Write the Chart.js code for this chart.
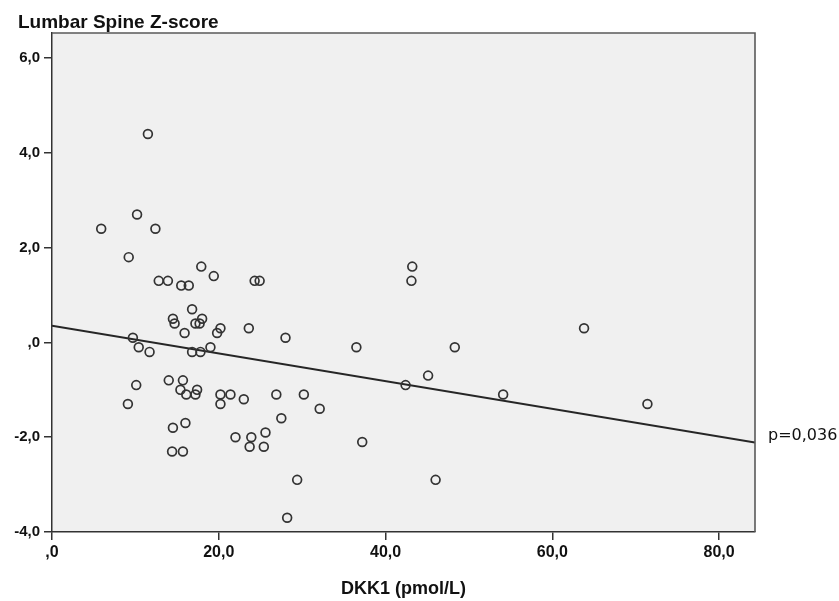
<!DOCTYPE html>
<html>
<head>
<meta charset="utf-8">
<script src="https://cdn.jsdelivr.net/npm/chart.js@4.4.0/dist/chart.umd.min.js"></script>
<style>
  html, body { margin: 0; padding: 0; background: #ffffff; }
  #wrap { width: 839px; height: 601px; }
</style>
</head>
<body>
<div id="wrap"><canvas id="c" width="839" height="601"></canvas></div>
<script>
// ---- Data ----
const dkk1 = [
  11.5, 10.2, 5.9, 12.4, 9.2, 12.8, 13.9, 15.5, 16.4, 17.9,
  19.4, 24.3, 24.9, 16.8, 14.5, 18.0, 14.7, 17.2, 17.7, 15.9,
  19.8, 20.2, 23.6, 28.0, 9.7, 10.4, 11.7, 16.8, 17.8, 19.0,
  14.0, 15.7, 10.1, 15.4, 16.1, 17.4, 17.2, 20.2, 21.4, 20.2,
  9.1, 23.0, 26.9, 30.2, 32.1, 27.5, 16.0, 14.5, 25.6, 22.0,
  23.9, 23.7, 25.4, 14.4, 15.7, 29.4, 28.2, 43.2, 43.1, 63.8,
  36.5, 48.3, 45.1, 42.4, 54.1, 71.4, 37.2, 46.0
];
const zScore = [
  4.4, 2.7, 2.4, 2.4, 1.8, 1.3, 1.3, 1.2, 1.2, 1.6,
  1.4, 1.3, 1.3, 0.7, 0.5, 0.5, 0.4, 0.4, 0.4, 0.2,
  0.2, 0.3, 0.3, 0.1, 0.1, -0.1, -0.2, -0.2, -0.2, -0.1,
  -0.8, -0.8, -0.9, -1.0, -1.1, -1.0, -1.1, -1.1, -1.1, -1.3,
  -1.3, -1.2, -1.1, -1.1, -1.4, -1.6, -1.7, -1.8, -1.9, -2.0,
  -2.0, -2.2, -2.2, -2.3, -2.3, -2.9, -3.7, 1.6, 1.3, 0.3,
  -0.1, -0.1, -0.7, -0.9, -1.1, -1.3, -2.1, -2.9
];
const fitX = [0, 84.3];
const fitY = [0.35, -2.11];
const xTicks = [0, 20, 40, 60, 80];
const yTicks = [-4, -2, 0, 2, 4, 6];
const xRange = [0, 84.3];
const yRange = [-4, 6.53];
const yTitle = 'Lumbar Spine Z-score';
const xTitle = 'DKK1 (pmol/L)';
const pLabel = 'p=0,036';

// ---- Chart ----
const fmt = v => (v === 0 ? ',0' : v.toFixed(1).replace('.', ','));
const FONT = '"Liberation Sans", Arial, sans-serif';

const decor = {
  id: 'decor',
  beforeDraw(chart) {
    const { ctx, chartArea: a } = chart;
    ctx.save();
    ctx.fillStyle = '#f0f0f0';
    ctx.fillRect(a.left, a.top, a.right - a.left, a.bottom - a.top);
    ctx.restore();
  },
  afterDraw(chart) {
    const { ctx, chartArea: a, scales } = chart;
    ctx.save();
    ctx.strokeStyle = '#5a5a5a';
    ctx.lineWidth = 1.6;
    ctx.beginPath();
    ctx.moveTo(a.left, a.top);
    ctx.lineTo(a.right, a.top);
    ctx.lineTo(a.right, a.bottom);
    ctx.stroke();
    // y-axis title
    ctx.fillStyle = '#111';
    ctx.font = 'bold 19px ' + FONT;
    ctx.textAlign = 'left';
    ctx.textBaseline = 'alphabetic';
    ctx.fillText(yTitle, 18, 28);
    // p-value annotation at the end of the fit line
    const px = scales.x.getPixelForValue(fitX[1]);
    const py = scales.y.getPixelForValue(fitY[1]);
    ctx.font = '16px "DejaVu Sans", Verdana, sans-serif';
    ctx.fillStyle = '#111';
    ctx.textBaseline = 'middle';
    ctx.fillText(pLabel, px + 13, py - 7);
    ctx.restore();
  }
};

new Chart(document.getElementById('c'), {
  type: 'scatter',
  data: {
    datasets: [
      {
        label: 'data',
        data: dkk1.map((x, i) => ({ x, y: zScore[i] })),
        pointStyle: 'circle',
        pointRadius: 4.4,
        pointBorderWidth: 1.7,
        pointBorderColor: '#333333',
        pointBackgroundColor: 'rgba(0,0,0,0)',
        showLine: false
      },
      {
        label: 'fit',
        data: fitX.map((x, i) => ({ x, y: fitY[i] })),
        showLine: true,
        borderColor: '#262626',
        borderWidth: 2,
        pointRadius: 0,
        fill: false
      }
    ]
  },
  options: {
    responsive: false,
    animation: false,
    layout: { padding: { top: 33, right: 84, left: 0, bottom: 0 } },
    plugins: {
      legend: { display: false },
      tooltip: { enabled: false },
      title: { display: false }
    },
    scales: {
      x: {
        type: 'linear',
        min: xRange[0],
        max: xRange[1],
        afterBuildTicks: s => { s.ticks = xTicks.map(v => ({ value: v })); },
        afterFit: s => { s.height = 69; },
        ticks: {
          callback: v => fmt(v),
          color: '#111',
          font: { family: FONT, size: 16, weight: 'bold' },
          padding: 3,
          maxRotation: 0,
          autoSkip: false
        },
        grid: { display: true, drawOnChartArea: false, drawTicks: true, tickLength: 8, color: '#333', lineWidth: 1.5 },
        border: { display: true, color: '#333', width: 1.5 },
        title: {
          display: true,
          text: xTitle,
          color: '#111',
          font: { family: FONT, size: 18, weight: 'bold' },
          padding: { top: 0, bottom: 1 }
        }
      },
      y: {
        type: 'linear',
        min: yRange[0],
        max: yRange[1],
        afterBuildTicks: s => { s.ticks = yTicks.map(v => ({ value: v })); },
        afterFit: s => { s.width = 52; },
        ticks: {
          callback: v => fmt(v),
          color: '#111',
          font: { family: FONT, size: 15, weight: 'bold' },
          padding: 4,
          autoSkip: false
        },
        grid: { display: true, drawOnChartArea: false, drawTicks: true, tickLength: 8, color: '#333', lineWidth: 1.5 },
        border: { display: true, color: '#333', width: 1.5 }
      }
    }
  },
  plugins: [decor]
});
</script>
</body>
</html>
